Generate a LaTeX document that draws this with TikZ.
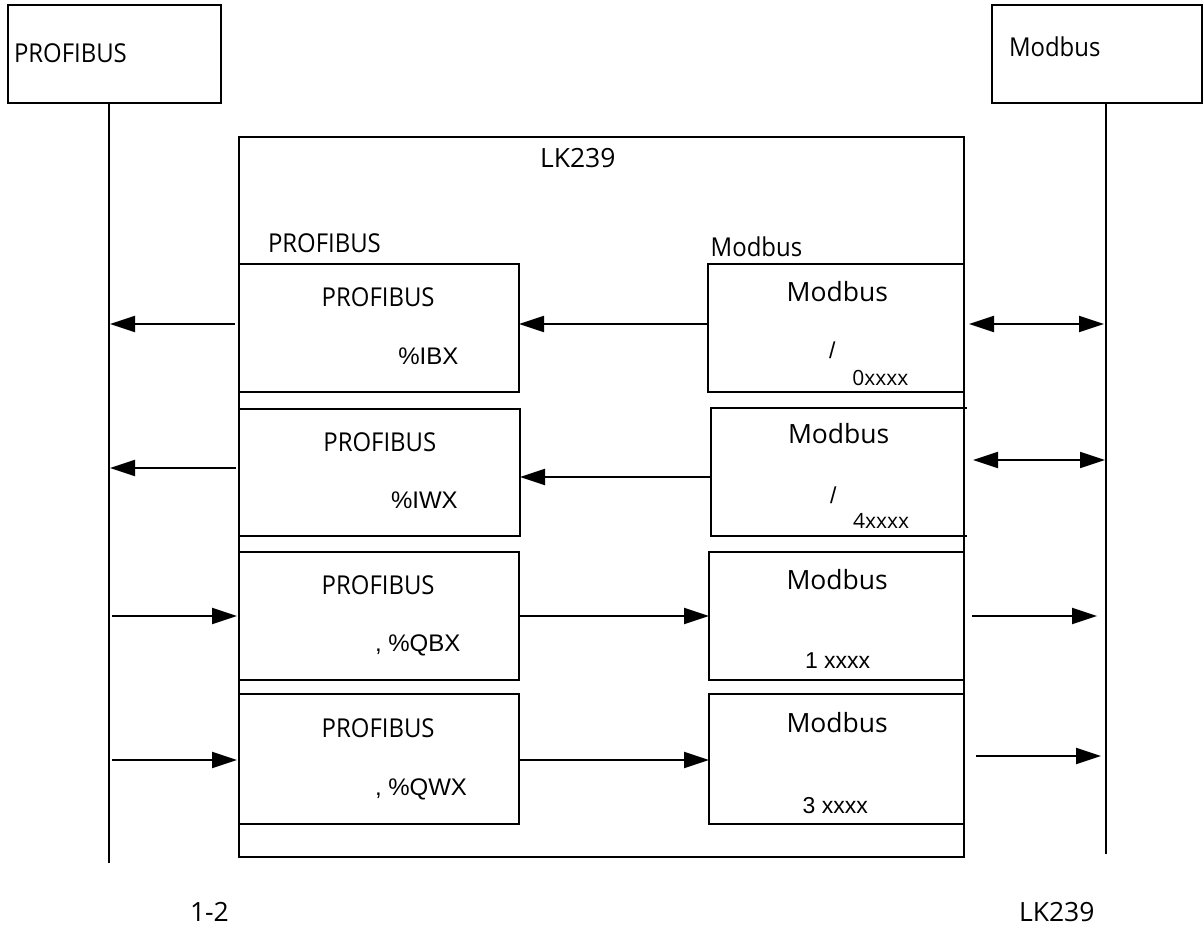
\documentclass[tikz,border=0pt]{standalone}
\usepackage{fontspec}
\usetikzlibrary{arrows.meta}
\newfontfamily\segfont[FakeStretch=0.92]{Open Sans}
\newfontfamily\segwide{Open Sans}
\newfontfamily\arifont{Liberation Sans}
\begin{document}
\begin{tikzpicture}[x=1pt,y=-1pt,
  box/.style={draw, line width=2pt, inner sep=0pt, outer sep=0pt, anchor=north west},
  lbl/.style={inner sep=0pt, outer sep=0pt, anchor=base west},
  segt/.style={lbl, font=\segfont\fontsize{26}{30}\selectfont},
  segw/.style={lbl, font=\segwide\fontsize{26.5}{30}\selectfont},
  segs/.style={lbl, font=\segwide\fontsize{21}{25}\selectfont},
  arit/.style={lbl, font=\arifont\fontsize{24}{28}\selectfont},
  aris/.style={lbl, font=\arifont\fontsize{23}{27}\selectfont},
  bus/.style={line width=2pt},
  arr/.style={line width=2pt, -{Triangle[length=25pt,width=16pt]}},
  darr/.style={line width=2pt, {Triangle[length=25pt,width=16pt]}-{Triangle[length=25pt,width=16pt]}},
]
\useasboundingbox (0,0) rectangle (1203,930);

% outer bus boxes
\node[box, minimum width=213pt, minimum height=98pt] (pbTop) at (8,5) {};
\node[box, minimum width=210pt, minimum height=98pt] (mbTop) at (992,5) {};
\node[segt] (tpbTop) at (14,62) {PROFIBUS};
\node[segt] (tmbTop) at (1009,56.7) {Modbus};

% bus lines
\coordinate (lb) at (109,863);
\coordinate (rb) at (1106,854);
\draw[bus] (pbTop.south -| lb) -- (lb);
\draw[bus] (mbTop.south -| rb) -- (rb);

% LK239 box
\node[box, minimum width=725pt, minimum height=720pt] (big) at (239,137) {};
\node[segw] (title) at (540,167) {LK239};
\node[segt] (lblP) at (268,252.7) {PROFIBUS};
\node[segt] (lblM) at (710.7,256.7) {Modbus};

% PROFIBUS boxes
\node[box, minimum width=280pt, minimum height=128pt] (P1) at (239,264) {};
\node[box, minimum width=281pt, minimum height=127pt] (P2) at (239,409) {};
\node[box, minimum width=280pt, minimum height=128pt] (P3) at (239,552) {};
\node[box, minimum width=280pt, minimum height=130pt] (P4) at (239,694) {};

\node[segt] (tP1a) at (321.7,306.7) {PROFIBUS};
\node[arit] (tP1b) at (398.3,364) {\%IBX};
\node[segt] (tP2a) at (323.4,451) {PROFIBUS};
\node[arit] (tP2b) at (391,508.3) {\%IWX};
\node[segt] (tP3a) at (321.7,594) {PROFIBUS};
\node[arit] (tP3b) at (375,651.7) {, \%QBX};
\node[segt] (tP4a) at (321.7,737.3) {PROFIBUS};
\node[arit] (tP4b) at (375,795) {, \%QWX};

% Modbus boxes
\node[box, minimum width=256pt, minimum height=128pt] (M1) at (708,264) {};
\node[box, minimum width=253pt, minimum height=128pt] (M2) at (711,408) {};
\node[box, minimum width=255pt, minimum height=128pt] (M3) at (709,552) {};
\node[box, minimum width=255pt, minimum height=130pt] (M4) at (709,694) {};
\draw[line width=2pt] (M2.north east) -- ++(3,0);
\draw[line width=2pt] (M2.south east) -- ++(3,0);

\node[segw] (tM1a) at (786.7,301.7) {Modbus};
\node[aris] (tM1s) at (829,358) {/};
\node[segs] (tM1b) at (852.3,385.7) {0xxxx};
\node[segw] (tM2a) at (788,443.3) {Modbus};
\node[aris] (tM2s) at (830,503) {/};
\node[segs] (tM2b) at (853,528.3) {4xxxx};
\node[segw] (tM3a) at (786.5,589) {Modbus};
\node[aris] (tM3b) at (805,668.3) {1 xxxx};
\node[segw] (tM4a) at (786.5,732.7) {Modbus};
\node[aris] (tM4b) at (802.7,813.3) {3 xxxx};

% row coordinates
\coordinate (r1) at (0,324);
\coordinate (r2a) at (0,468);
\coordinate (r2b) at (0,477);
\coordinate (r2c) at (0,460);
\coordinate (r3) at (0,616);
\coordinate (r4) at (0,760);
\coordinate (r4c) at (0,756);

% row 1
\draw[arr] ([xshift=-4pt]P1.west |- r1) -- ([xshift=1pt]lb |- r1);
\draw[arr] (M1.west |- r1) -- (P1.east |- r1);
\draw[darr] ([xshift=5pt]M1.east |- r1) -- ([xshift=-2pt]rb |- r1);
% row 2
\draw[arr] ([xshift=-3pt]P2.west |- r2a) -- ([xshift=1pt]lb |- r2a);
\draw[arr] (M2.west |- r2b) -- (P2.east |- r2b);
\draw[darr] ([xshift=9pt]M2.east |- r2c) -- ([xshift=-1pt]rb |- r2c);
% row 3
\draw[arr] ([xshift=3pt]lb |- r3) -- ([xshift=-2pt]P3.west |- r3);
\draw[arr] (P3.east |- r3) -- (M3.west |- r3);
\draw[arr] ([xshift=8pt]M3.east |- r3) -- ([xshift=-9pt]rb |- r3);
% row 4
\draw[arr] ([xshift=3pt]lb |- r4) -- ([xshift=-2pt]P4.west |- r4);
\draw[arr] (P4.east |- r4) -- (M4.west |- r4);
\draw[arr] ([xshift=12pt]M4.east |- r4c) -- ([xshift=-5pt]rb |- r4c);

% captions
\node[segw] (cap1) at (190,921.7) {1-2};
\node[segw] (cap2) at (1019,921.7) {LK239};
\end{tikzpicture}
\end{document}
